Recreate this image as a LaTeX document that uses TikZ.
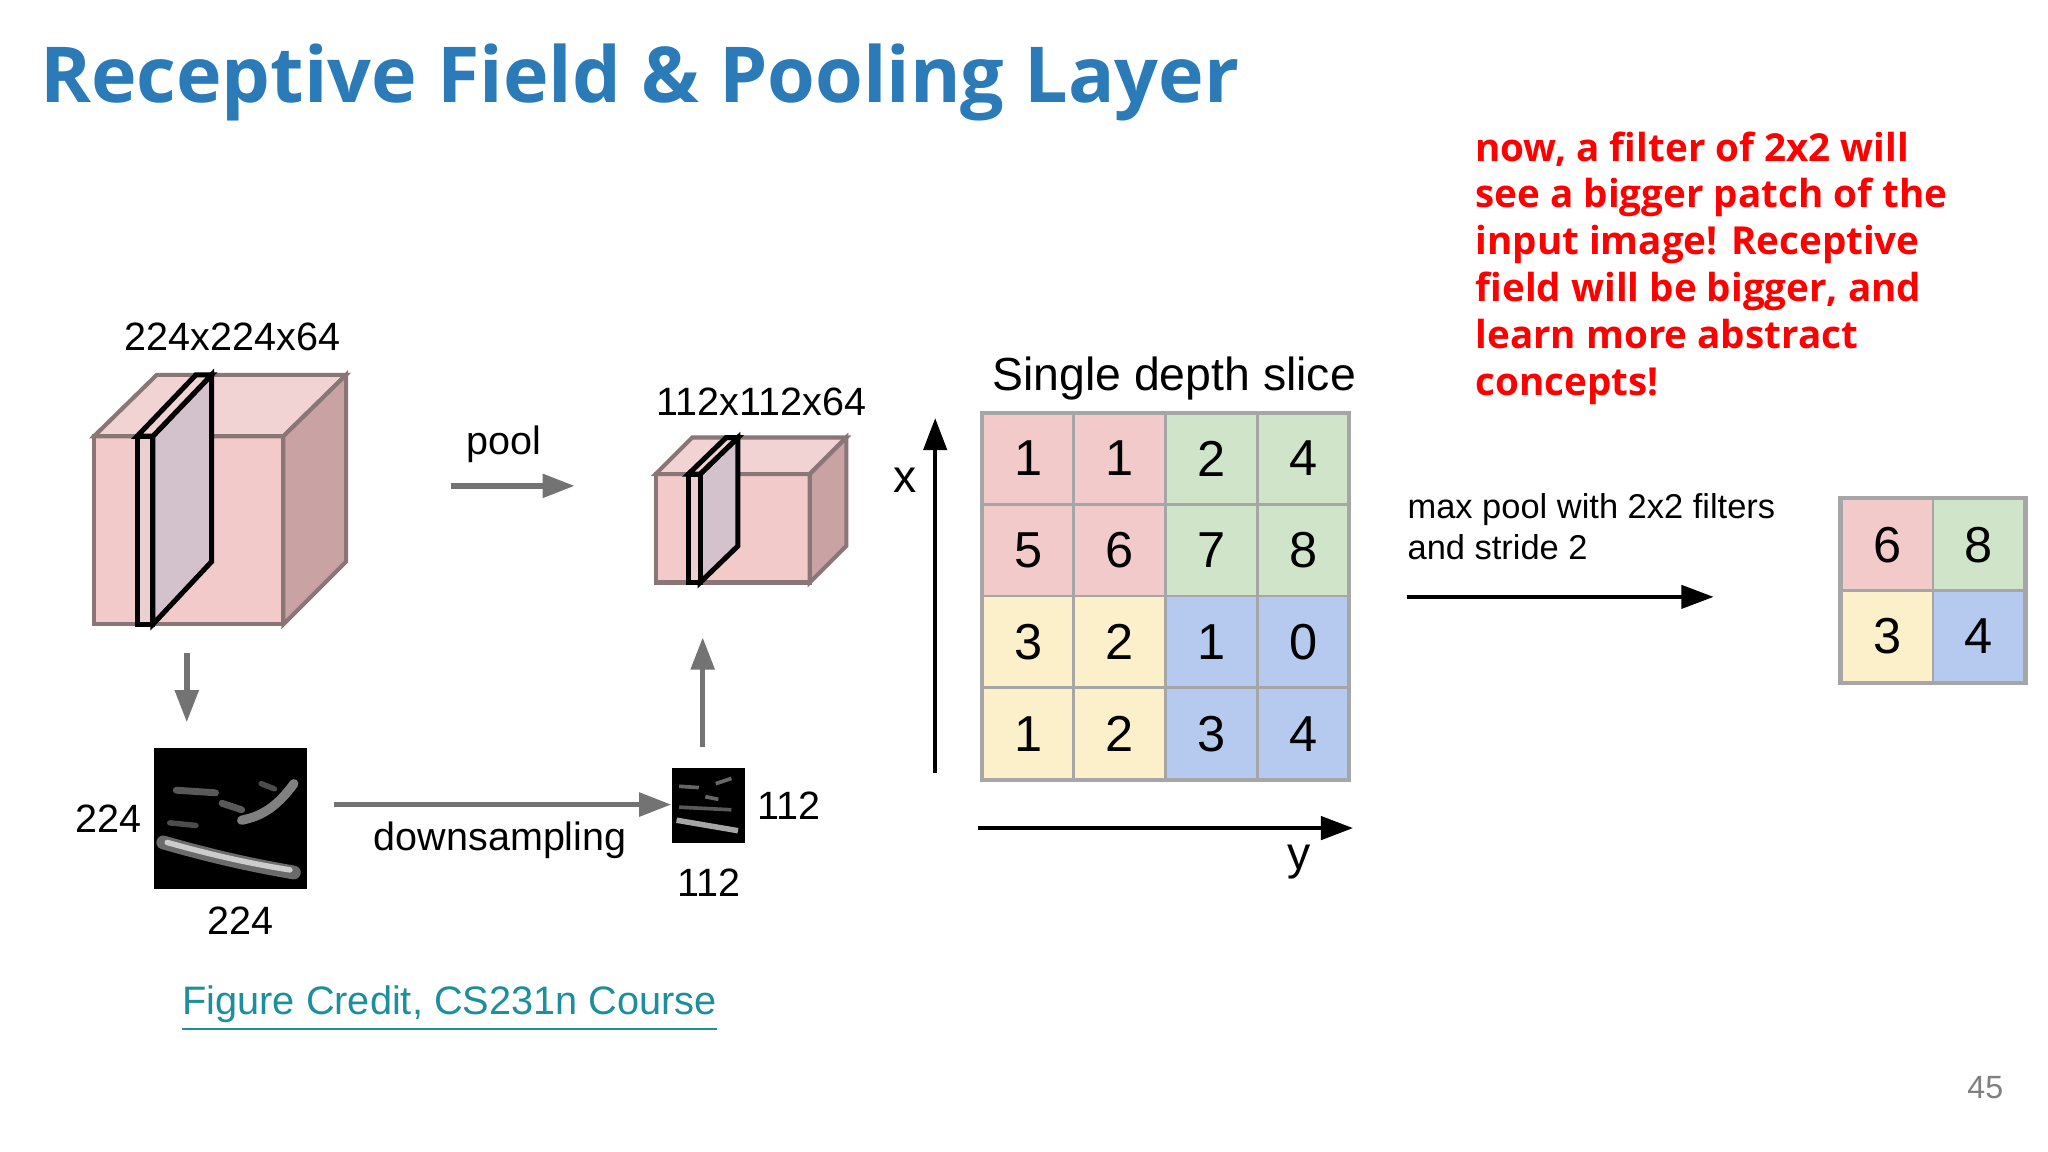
\documentclass[tikz,border=0pt]{standalone}
\usepackage{fontspec}
\setmainfont{Liberation Sans}
\newfontfamily\tfont{Open Sans}
\usetikzlibrary{arrows.meta}
\definecolor{tblue}{HTML}{2B7BB9}
\definecolor{pk}{HTML}{F3CACA}
\definecolor{pkd}{HTML}{C9A2A4}
\definecolor{pkt}{HTML}{F1D3D4}
\definecolor{sl}{HTML}{D3C2CC}
\definecolor{gn}{HTML}{CFE4C9}
\definecolor{yl}{HTML}{FBF0C9}
\definecolor{bl}{HTML}{B5CAEE}
\definecolor{edge}{HTML}{8A7677}
\definecolor{lnk}{HTML}{1C8E9E}
\tikzset{garr/.style={draw=gray!90!black,line width=1.2pt,-{Triangle[length=7pt,width=5pt]}},
 karr/.style={draw=black,line width=1pt,-{Triangle[length=7pt,width=5pt]}},
 lab/.style={font=\fontsize{8.6}{10}\selectfont,inner sep=0pt},
 cell/.style={draw=gray!70,line width=0.6pt,minimum width=0.702cm,minimum height=0.702cm,inner sep=0pt,font=\fontsize{11}{13}\selectfont},
 cbox/.style={draw=edge,line width=0.9pt}}
\begin{document}
\begin{tikzpicture}[x=0.01cm,y=-0.01cm]
\useasboundingbox (0,0) rectangle (1568,882);
\fill[white] (0,0) rectangle (1568,882);
\node[anchor=west,inner sep=0pt,text=tblue,font=\tfont\bfseries\fontsize{16.8}{20}\selectfont] (title) at (30,63) {Receptive Field \& Pooling Layer};
\node[anchor=north west,inner sep=0pt,text=red,align=left,font=\tfont\bfseries\fontsize{8.4}{10.2}\selectfont] (note) at (1129,100) {now, a filter of 2x2 will\\see a bigger patch of the\\input image! Receptive\\field will be bigger, and\\learn more abstract\\concepts!};
% cube 1
\fill[pk,cbox] (72,334) rectangle (217,478);
\fill[pkt,cbox] (72,334) -- (120,287) -- (265,287) -- (217,334) -- cycle;
\fill[pkd,cbox] (217,334) -- (265,287) -- (265,430) -- (217,478) -- cycle;
\fill[sl,draw=black,line width=1.1pt] (117,334) -- (162,287) -- (162,430) -- (117,478) -- cycle;
\fill[pkt,draw=black,line width=1.1pt] (105,334) -- (150,287) -- (162,287) -- (117,334) -- cycle;
\fill[pkt!80!sl,draw=black,line width=1.1pt] (105,334) rectangle (117,478);
\node[lab] (l1) at (178,258) {224x224x64};
% cube 2
\fill[pk,cbox] (502,363) rectangle (620,446);
\fill[pkt,cbox] (502,363) -- (530,335) -- (648,335) -- (620,363) -- cycle;
\fill[pkd,cbox] (620,363) -- (648,335) -- (648,418) -- (620,446) -- cycle;
\fill[sl,draw=black,line width=1.1pt] (536,363) -- (565,335) -- (565,418) -- (536,446) -- cycle;
\fill[pkt,draw=black,line width=1.1pt] (527,363) -- (556,335) -- (565,335) -- (536,363) -- cycle;
\fill[pkt!80!sl,draw=black,line width=1.1pt] (527,363) rectangle (536,446);
\node[lab] (l2) at (583,308) {112x112x64};
% pool
\coordinate (p1) at (345,372); \coordinate (p2) at (440,372);
\draw[garr] (p1) -- (p2);
\node[lab] (pool) at (386,340) {pool};
\coordinate (d1) at (143,500); \coordinate (d2) at (143,553);
\draw[garr] (d1) -- (d2);
% image 1
\node[fill=black,minimum width=1.17cm,minimum height=1.08cm,inner sep=0pt,anchor=north west] (im1) at (117,572) {};
\begin{scope}
\clip (117,572) rectangle (234,680);
\draw[white!60!black,line width=3pt,opacity=0.7,line cap=round] (125,645) .. controls (160,655) and (190,662) .. (225,668);
\draw[white!80!black,line width=1.2pt,line cap=round] (128,645) .. controls (160,654) and (190,661) .. (222,666);
\draw[white!35!black,line width=1.5pt,line cap=round] (135,605) -- (165,607);
\draw[white!35!black,line width=1.5pt,line cap=round] (170,615) -- (185,620);
\draw[white!50!black,line width=2pt,line cap=round] (185,628) .. controls (200,625) and (212,618) .. (225,600);
\draw[white!30!black,line width=1.2pt,line cap=round] (130,630) -- (150,632);
\draw[white!30!black,line width=1.2pt,line cap=round] (200,600) -- (210,604);
\end{scope}
\node[lab] (a1) at (83,627) {224};
\node[lab] (a2) at (184,705) {224};
% image 2
\node[fill=black,minimum width=0.56cm,minimum height=0.58cm,inner sep=0pt,anchor=north west] (im2) at (514,587) {};
\begin{scope}
\clip (514,587) rectangle (570,645);
\draw[white!65!black,line width=1.2pt] (518,628) -- (565,636);
\draw[white!40!black,line width=0.8pt] (520,602) -- (535,603);
\draw[white!40!black,line width=0.8pt] (540,610) -- (550,612);
\draw[white!40!black,line width=0.8pt] (548,600) -- (560,596);
\draw[white!35!black,line width=0.8pt] (520,618) -- (560,620);
\end{scope}
\node[lab] (b1) at (604,617) {112};
\node[lab] (b2) at (543,676) {112};
\draw[garr] (im1.east |- 0,616) ++(20,0) coordinate (ds1) -- (im2.west |- ds1);
\node[lab] (ds) at (383,643) {downsampling};
\coordinate (u1) at (538,572); \coordinate (u2) at (538,488);
\draw[garr] (u1) -- (u2);
% grid
\node[lab,font=\fontsize{10.1}{12}\selectfont] (sds) at (899,290) {Single depth slice};
\foreach \r/\row in {0/{1/pk,1/pk,2/gn,4/gn},1/{5/pk,6/pk,7/gn,8/gn},2/{3/yl,2/yl,1/bl,0/bl},3/{1/yl,2/yl,3/bl,4/bl}}{
  \foreach \v/\c [count=\k from 0] in \row {
    \node[cell,fill=\c] (g\r\k) at ({787.1+70.2*\k},{351.1+70.2*\r}) {\v};
  }}
\draw[gray!70,line width=0.8pt] (752,316) rectangle (1033,597);
\coordinate (x1) at (716,592); \coordinate (x2) at (716,320);
\draw[karr] (x1) -- (x2);
\node[lab,font=\fontsize{10.1}{12}\selectfont] (xl) at (693,368) {x};
\coordinate (y1) at (749,634); \coordinate (y2) at (1036,634);
\draw[karr] (y1) -- (y2);
\node[lab,font=\fontsize{10.1}{12}\selectfont] (yl) at (995,660) {y};
\node[anchor=west,align=left,inner sep=0pt,font=\fontsize{7.5}{8.9}\selectfont] (mp) at (1077,403) {max pool with 2x2 filters\\and stride 2};
\coordinate (m1) at (1077,457); \coordinate (m2) at (1312,457);
\draw[karr,line width=0.9pt] (m1) -- (m2);
\node[cell,fill=pk] (o00) at (1445,417) {6};
\node[cell,fill=gn] (o01) at (1515,417) {8};
\node[cell,fill=yl] (o10) at (1445,487) {3};
\node[cell,fill=bl] (o11) at (1515,487) {4};
\draw[gray!70,line width=0.8pt] (o00.north west) rectangle (o11.south east);
\node[anchor=west,inner sep=0pt,text=lnk,font=\fontsize{8.65}{10}\selectfont] (cr) at (139,772) {\underline{Figure Credit, CS231n Course}};
\node[inner sep=0pt,text=gray,font=\fontsize{7}{9}\selectfont] (pg) at (1520,833) {45};
\end{tikzpicture}
\end{document}
